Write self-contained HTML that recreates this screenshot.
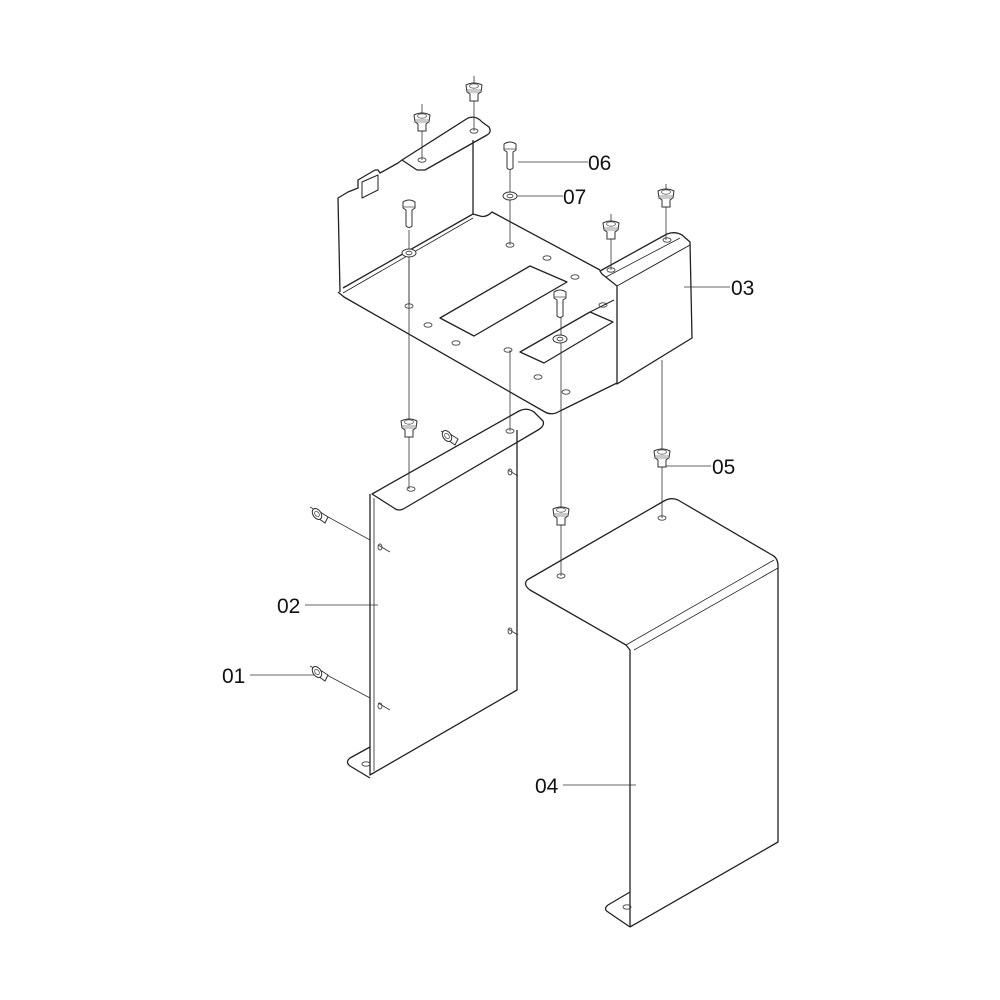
<!DOCTYPE html>
<html><head><meta charset="utf-8"><style>
html,body{margin:0;padding:0;background:#fff;}
svg{display:block}
text{font-family:"Liberation Sans",sans-serif;font-size:21px;fill:#111}
</style></head><body>
<svg width="1000" height="1000" viewBox="0 0 1000 1000" xmlns="http://www.w3.org/2000/svg">
<defs>
<g id="scr">
 <path d="M-8,-9 Q0,-13 8,-9 L7,-2 L4,0 L4,7 L-4,7 L-4,0 L-7,-2 Z" fill="#fff" stroke="#333" stroke-width="1"/>
 <ellipse cx="0" cy="-8" rx="4.5" ry="2.2" fill="none" stroke="#555" stroke-width="0.8"/>
 <line x1="-7" y1="-4" x2="7" y2="-4" stroke="#666" stroke-width="0.7"/>
 <line x1="-7" y1="-2" x2="7" y2="-2" stroke="#666" stroke-width="0.7"/>
</g>
<g id="bolt">
 <path d="M-6,-4 L-6,-10 Q0,-14 6,-10 L6,-4 L3,-2 L3,14 Q0,17 -3,14 L-3,-2 Z" fill="#fff" stroke="#333" stroke-width="1"/>
 <line x1="-6" y1="-5" x2="6" y2="-5" stroke="#555" stroke-width="0.8"/>
</g>
<g id="wash">
 <ellipse cx="0" cy="0" rx="7" ry="4" fill="#fff" stroke="#333" stroke-width="1"/>
 <ellipse cx="0" cy="0" rx="3" ry="1.8" fill="none" stroke="#333" stroke-width="0.8"/>
</g>
<g id="hole"><ellipse cx="0" cy="0" rx="4" ry="2.2" fill="none" stroke="#444" stroke-width="0.9"/></g>
<g id="nut">
 <path d="M-5,-6 L6,1 L3,7 L-7,0 Z" fill="#fff" stroke="#333" stroke-width="1"/>
 <ellipse cx="-5" cy="-2" rx="4" ry="6" transform="rotate(-35 -5 -2)" fill="#fff" stroke="#333" stroke-width="1"/>
 <ellipse cx="-5" cy="-2" rx="2" ry="3" transform="rotate(-35 -5 -2)" fill="none" stroke="#555" stroke-width="0.8"/>
</g>
</defs>
<g fill="none" stroke="#222" stroke-width="1.3" stroke-linejoin="round">
<!-- TRAY back-left wall -->
<path d="M340,292 L338,198 L348,192 L358,188 L358,180 L375,170 L378,170 L380,173 L398,163 L402,160"/>
<path d="M402,160 L468,118 Q476,115 482,122 L489,127 Q492,132 487,135 L425,170 L417,170 Z"/>
<path d="M473,140 L473,214"/>
<path d="M362,182 L378,175 L378,190 L362,198 Z" stroke-width="1"/>
<!-- floor -->
<path d="M338,292 L344,297 L545,412 Q552,416 560,411 L617,383"/>
<path d="M343,288 L473,214 L480,216 Q486,218 492,212 L600,270"/>
<path d="M343,293 L473,218" stroke-width="0.8"/>
<!-- cutouts -->
<path d="M440,318 L530,266 L567,282 L474,336 Z"/>
<path d="M520,352 L590,312 L613,322 L544,363 Z"/>
<path d="M590,312 L614,300" stroke-width="1"/>
<!-- box 03 -->
<path d="M600,271 L667,234 Q675,231 682,235 L690,242 L692,338 L617,384 L617,286 L602,274 Z"/>
<path d="M617,286 L690,245" stroke-width="1"/>
<path d="M606,277 L680,238" stroke-width="0.8"/>
<!-- tray holes -->
<use href="#hole" x="409" y="306"/><use href="#hole" x="428" y="325"/><use href="#hole" x="456" y="343"/>
<use href="#hole" x="510" y="245"/><use href="#hole" x="547" y="258"/><use href="#hole" x="575" y="277"/>
<use href="#hole" x="603" y="305"/><use href="#hole" x="508" y="350"/><use href="#hole" x="538" y="377"/>
<use href="#hole" x="566" y="392"/><use href="#hole" x="422" y="160"/><use href="#hole" x="474" y="131"/>
<use href="#hole" x="611" y="270"/><use href="#hole" x="667" y="240"/>

<!-- PANEL 02 -->
<path d="M372,494 L519,411 Q527,407 534,412 L543,421 Q545,426 538,430 L405,508 Q399,512 394,508 Z"/>
<path d="M370,494 L370,775 L517,690 L517,430"/>
<path d="M374,498 L374,771" stroke-width="0.8"/>
<path d="M370,747 L350,758 Q345,762 350,766 L370,778"/>
<use href="#hole" x="411" y="489"/><use href="#hole" x="510" y="431"/>
<use href="#hole" x="366" y="764"/>
<!-- PANEL 04 -->
<path d="M527,580 L664,501 Q671,497 678,500 L772,555 Q778,558 778,566 L778,842 L630,927"/>
<path d="M527,580 Q523,585 530,590 L626,645 L630,650 L630,927"/>
<path d="M626,645 L774,560" stroke-width="0.8"/>
<path d="M634,650 L778,568" stroke-width="0.8"/>
<path d="M630,892 L608,905 Q603,909 608,912 L630,927"/>
<use href="#hole" x="561" y="576"/><use href="#hole" x="662" y="518"/><use href="#hole" x="627" y="907"/>
</g>

<g stroke="#333" stroke-width="0.8" fill="none">
<line x1="422" y1="104" x2="422" y2="160"/>
<line x1="474" y1="76" x2="474" y2="131"/>
<line x1="510" y1="165" x2="510" y2="245"/>
<line x1="409" y1="230" x2="409" y2="306"/>
<line x1="409" y1="260" x2="409" y2="489"/>
<line x1="510" y1="350" x2="510" y2="431"/>
<line x1="561" y1="305" x2="561" y2="576"/>
<line x1="611" y1="214" x2="611" y2="270"/>
<line x1="666" y1="184" x2="666" y2="240"/>
<line x1="662" y1="360" x2="662" y2="518"/>
<line x1="310" y1="507" x2="370" y2="540"/>
<line x1="378" y1="545" x2="390" y2="552"/>
<line x1="310" y1="666" x2="370" y2="698"/>
<line x1="378" y1="703" x2="390" y2="710"/>
<line x1="441" y1="431" x2="452" y2="437"/>
<line x1="508" y1="470" x2="518" y2="476"/>
<line x1="508" y1="629" x2="518" y2="635"/>
<line x1="518" y1="162" x2="588" y2="162"/>
<line x1="516" y1="196" x2="563" y2="196"/>
<line x1="684" y1="287" x2="730" y2="287"/>
<line x1="666" y1="466" x2="711" y2="466"/>
<line x1="305" y1="605" x2="378" y2="605"/>
<line x1="250" y1="675" x2="314" y2="675"/>
<line x1="563" y1="785" x2="636" y2="785"/>
</g>

<use href="#scr" x="422" y="124"/>
<use href="#scr" x="474" y="94"/>
<use href="#scr" x="611" y="232"/>
<use href="#scr" x="666" y="200"/>
<use href="#scr" x="409" y="430"/>
<use href="#scr" x="561" y="518"/>
<use href="#scr" x="662" y="460"/>
<use href="#bolt" x="510" y="154"/>
<use href="#bolt" x="409" y="212"/>
<use href="#bolt" x="560" y="302"/>
<use href="#wash" x="510" y="196"/>
<use href="#wash" x="409" y="253"/>
<use href="#wash" x="560" y="339"/>
<use href="#nut" x="322" y="516"/>
<use href="#nut" x="322" y="674"/>
<use href="#nut" x="452" y="438"/>
<g fill="none" stroke="#444" stroke-width="0.9">
<ellipse cx="380" cy="547" rx="2" ry="3"/><ellipse cx="380" cy="706" rx="2" ry="3"/>
<ellipse cx="510" cy="472" rx="2" ry="3"/><ellipse cx="510" cy="631" rx="2" ry="3"/>
</g>

<text x="588" y="170">06</text>
<text x="563" y="204">07</text>
<text x="731" y="295">03</text>
<text x="712" y="474">05</text>
<text x="277" y="613">02</text>
<text x="222" y="683">01</text>
<text x="535" y="793">04</text>
</svg>
</body></html>
